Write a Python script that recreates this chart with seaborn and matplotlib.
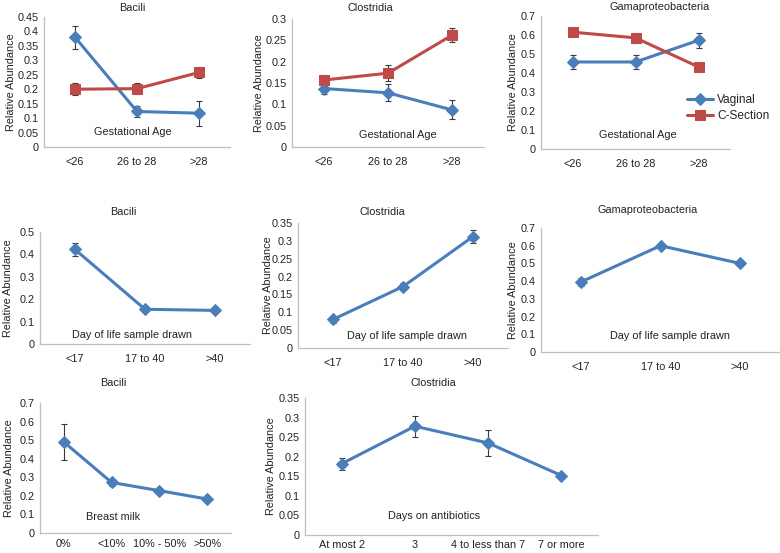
# Relative abundance of Bacili / Clostridia / Gamaproteobacteria by clinical factor
import matplotlib.pyplot as plt
import pandas as pd
import seaborn as sns

sns.set_style("white")
plt.rcParams['font.family'] = ['Liberation Sans', 'DejaVu Sans']
plt.rcParams['font.size'] = 7.8

BLUE = "#4A7EBB"
RED = "#BE4B48"
FS = 7.8

# categories
gest_cats = ["<26", "26 to 28", ">28"]
day_cats = ["<17", "17 to 40", ">40"]
milk_cats = ["0%", "<10%", "10% - 50%", ">50%"]
abx_cats = ["At most 2", "3", "4 to less than 7", "7 or more"]

# row 1: gestational age, vaginal vs c-section (mean, error)
bac_gest_vag = [0.38, 0.123, 0.117]
bac_gest_vag_err = [0.04, 0.02, 0.043]
bac_gest_cs = [0.20, 0.202, 0.258]
bac_gest_cs_err = [0.02, 0.02, 0.02]

clo_gest_vag = [0.137, 0.127, 0.087]
clo_gest_vag_err = [0.012, 0.02, 0.022]
clo_gest_cs = [0.157, 0.173, 0.262]
clo_gest_cs_err = [0.011, 0.019, 0.016]

gam_gest_vag = [0.458, 0.458, 0.572]
gam_gest_vag_err = [0.037, 0.037, 0.038]
gam_gest_cs = [0.615, 0.585, 0.432]
gam_gest_cs_err = [0.008, 0.025, 0.01]

# row 2: day of life sample drawn
bac_day = [0.422, 0.155, 0.15]
bac_day_err = [0.027, 0.01, 0.013]
clo_day = [0.08, 0.172, 0.312]
clo_day_err = [0.01, 0.009, 0.018]
gam_day = [0.395, 0.6, 0.5]
gam_day_err = [0.02, 0.01, 0.013]

# row 3: breast milk / days on antibiotics
bac_milk = [0.49, 0.272, 0.228, 0.183]
bac_milk_err = [0.095, 0.017, 0.017, 0.008]
clo_abx = [0.182, 0.278, 0.235, 0.152]
clo_abx_err = [0.015, 0.027, 0.034, 0.006]

fig = plt.figure(figsize=(7.8, 5.53), dpi=100)
W, H = 780, 553

# layout: box (left, right, top, bottom) px, title xy px, ylabel right edge px, note xy (axes frac)
panels = [
    dict(box=(44, 230, 17, 147), ymax=0.45, step=0.05, title="Bacili", txy=(132, 8), ylx=16,
         cats=gest_cats, note="Gestational Age", nxy=(0.48, 0.115),
         series=[(bac_gest_vag, bac_gest_vag_err, BLUE, "D", "Vaginal"),
                 (bac_gest_cs, bac_gest_cs_err, RED, "s", "C-Section")]),
    dict(box=(292, 484, 19, 147), ymax=0.3, step=0.05, title="Clostridia", txy=(370, 8), ylx=264,
         cats=gest_cats, note="Gestational Age", nxy=(0.55, 0.094),
         series=[(clo_gest_vag, clo_gest_vag_err, BLUE, "D", "Vaginal"),
                 (clo_gest_cs, clo_gest_cs_err, RED, "s", "C-Section")]),
    dict(box=(541, 730, 16, 149), ymax=0.7, step=0.1, title="Gamaproteobacteria", txy=(660, 7), ylx=518,
         cats=gest_cats, note="Gestational Age", nxy=(0.51, 0.105), legend=True,
         series=[(gam_gest_vag, gam_gest_vag_err, BLUE, "D", "Vaginal"),
                 (gam_gest_cs, gam_gest_cs_err, RED, "s", "C-Section")]),
    dict(box=(40, 250, 232, 344), ymax=0.5, step=0.1, title="Bacili", txy=(123, 212), ylx=13,
         cats=day_cats, note="Day of life sample drawn", nxy=(0.44, 0.08),
         series=[(bac_day, bac_day_err, BLUE, "D", None)]),
    dict(box=(298, 508, 223, 348), ymax=0.35, step=0.05, title="Clostridia", txy=(382, 212), ylx=273,
         cats=day_cats, note="Day of life sample drawn", nxy=(0.52, 0.096),
         series=[(clo_day, clo_day_err, BLUE, "D", None)]),
    dict(box=(541, 780, 228, 352), ymax=0.7, step=0.1, title="Gamaproteobacteria", txy=(648, 210), ylx=518,
         cats=day_cats, note="Day of life sample drawn", nxy=(0.54, 0.13),
         series=[(gam_day, gam_day_err, BLUE, "D", None)]),
    dict(box=(40, 231, 403, 533), ymax=0.7, step=0.1, title="Bacili", txy=(113, 383), ylx=14,
         cats=milk_cats, note="Breast milk", nxy=(0.38, 0.12), xpad=4.5,
         series=[(bac_milk, bac_milk_err, BLUE, "D", None)]),
    dict(box=(305, 598, 398, 535), ymax=0.35, step=0.05, title="Clostridia", txy=(433, 383), ylx=276,
         cats=abx_cats, note="Days on antibiotics", nxy=(0.44, 0.14), xpad=3.5,
         series=[(clo_abx, clo_abx_err, BLUE, "D", None)]),
]

for p in panels:
    l, r, t, b = p["box"]
    ax = fig.add_axes([l / W, 1 - b / H, (r - l) / W, (b - t) / H])
    n = len(p["cats"])
    for vals, errs, col, mk, lab in p["series"]:
        df = pd.DataFrame({"pos": range(n), "val": vals, "err": errs})
        ax.errorbar(df["pos"], df["val"], yerr=df["err"], fmt="none", ecolor="#3a3a3a",
                    elinewidth=0.8, capsize=2.4, capthick=0.8, zorder=2)
        sns.lineplot(data=df, x="pos", y="val", ax=ax, color=col, linewidth=2.2,
                     marker=mk, markersize=7.2 if mk == "s" else 6.2, markeredgecolor=col,
                     label=lab, legend=False, zorder=3)
    if p.get("legend"):
        h, lb = ax.get_legend_handles_labels()
        fig.legend(h, lb, loc="upper left", bbox_to_anchor=(676 / W, 1 - 83 / H), frameon=False,
                   fontsize=8.6, handlelength=2.2, labelspacing=0.35, handletextpad=0.35)
    ax.set_xlim(-0.5, n - 0.5)
    ax.set_ylim(0, p["ymax"])
    ticks = [round(i * p["step"], 3) for i in range(int(round(p["ymax"] / p["step"])) + 1)]
    ax.set_yticks(ticks)
    ax.set_yticklabels([f"{v:g}" for v in ticks])
    ax.set_xticks(range(n))
    ax.set_xticklabels(p["cats"])
    ax.tick_params(axis="both", length=0, labelsize=FS, colors="#222222")
    ax.tick_params(axis="x", pad=p.get("xpad", 7))
    ax.tick_params(axis="y", pad=4)
    for s in ["top", "right"]:
        ax.spines[s].set_visible(False)
    for s in ["left", "bottom"]:
        ax.spines[s].set_color("#BFBFBF")
        ax.spines[s].set_linewidth(0.9)
    ax.set_xlabel("")
    ax.set_ylabel("Relative Abundance", fontsize=FS, color="#222222")
    ax.yaxis.set_label_coords((p["ylx"] - l) / (r - l), 0.5)
    ax.text(p["nxy"][0], p["nxy"][1], p["note"], transform=ax.transAxes, ha="center",
            va="center", fontsize=FS, color="#222222")
    fig.text(p["txy"][0] / W, 1 - p["txy"][1] / H, p["title"], ha="center", va="center",
             fontsize=FS, color="#222222")

fig.savefig("out.png", dpi=100)
